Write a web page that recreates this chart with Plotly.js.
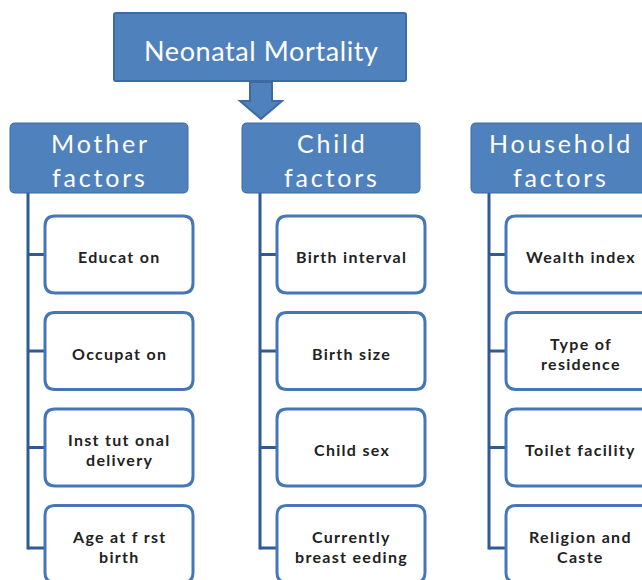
<!DOCTYPE html>
<html>
<head>
<meta charset="utf-8">
<script src="https://cdn.plot.ly/plotly-3.0.1.min.js"></script>
<style>html,body{margin:0;padding:0;background:#fff}#chart{width:642px;height:580px}</style>
</head>
<body>
<div id="chart"></div>
<script>
// ---- data ----
var rootLabel = "Neonatal Mortality";
var groupLabels = ["Mother<br>factors", "Child<br>factors", "Household<br>factors"];
var motherItems = ["Educat on", "Occupat on", "Inst tut onal<br>delivery", "Age at f rst<br>birth"];
var childItems = ["Birth interval", "Birth size", "Child sex", "Currently<br>breast eeding"];
var householdItems = ["Wealth index", "Type of<br>residence", "Toilet facility", "Religion and<br>Caste"];
var groupItems = [motherItems, childItems, householdItems];

// ---- layout geometry ----
var BLUE = "#4f81bd", BLUE_DARK = "#3c6aa3", LINE = "#2e5a96", ITEM_BORDER = "#4676b8";
var groupX0 = [10, 242, 471], groupW = 178, groupY0 = 123, groupY1 = 193;
var itemDx = 35, itemW = 148, itemY0 = 216, itemH = 77, itemStep = 96.5;
var trunkDx = 18;
var fontFam = "Lato, 'Open Sans', sans-serif";

function rr(x0, y0, x1, y1, r) {
  return "M" + (x0 + r) + "," + y0 + " L" + (x1 - r) + "," + y0 + " Q" + x1 + "," + y0 + " " + x1 + "," + (y0 + r) +
    " L" + x1 + "," + (y1 - r) + " Q" + x1 + "," + y1 + " " + (x1 - r) + "," + y1 +
    " L" + (x0 + r) + "," + y1 + " Q" + x0 + "," + y1 + " " + x0 + "," + (y1 - r) +
    " L" + x0 + "," + (y0 + r) + " Q" + x0 + "," + y0 + " " + (x0 + r) + "," + y0 + " Z";
}
function spaced(t, ls) { return '<span style="letter-spacing:' + ls + 'px">' + t + '</span>'; }

var shapes = [], annotations = [];
function addLines(label, cx, cy, spacing, font, ls) {
  var lines = label.split("<br>");
  var n = lines.length;
  lines.forEach(function (ln, k) {
    annotations.push({x: cx + ls / 2, y: cy + (k - (n - 1) / 2) * spacing, xref: "x", yref: "y",
      text: spaced(ln, ls), showarrow: false, borderpad: 0, font: font});
  });
}

// root box
shapes.push({type: "path", xref: "x", yref: "y", path: rr(114, 13, 406, 81, 2), fillcolor: BLUE, line: {color: BLUE_DARK, width: 2}});
addLines(rootLabel, 261, 50, 0, {family: fontFam, size: 27, color: "#ffffff"}, 0.6);
// arrow
shapes.push({type: "path", xref: "x", yref: "y",
  path: "M250,82 L272,82 L272,101 L282,101 L261,119 L240,101 L250,101 Z",
  fillcolor: BLUE, line: {color: BLUE_DARK, width: 2}});

groupLabels.forEach(function (g, gi) {
  var gx0 = groupX0[gi];
  shapes.push({type: "path", xref: "x", yref: "y", path: rr(gx0, groupY0, gx0 + groupW, groupY1, 5), fillcolor: BLUE, line: {color: BLUE_DARK, width: 1}});
  addLines(g, gx0 + groupW / 2, (groupY0 + groupY1) / 2 + 2, 34, {family: fontFam, size: 25, color: "#ffffff"}, 2.8);
  var items = groupItems[gi];
  var tx = gx0 + trunkDx;
  var lastMid = itemY0 + (items.length - 1) * itemStep + itemH / 2 + 4;
  shapes.push({type: "line", xref: "x", yref: "y", x0: tx, x1: tx, y0: groupY1, y1: lastMid + 1.5, line: {color: LINE, width: 3}});
  items.forEach(function (it, ii) {
    var y0 = itemY0 + ii * itemStep, y1 = y0 + itemH;
    var ix0 = gx0 + itemDx, ix1 = ix0 + itemW;
    var mid = (y0 + y1) / 2 + (ii === items.length - 1 ? 4 : 0);
    shapes.push({type: "line", xref: "x", yref: "y", x0: tx, x1: ix0, y0: mid, y1: mid, line: {color: LINE, width: 3}});
    shapes.push({type: "path", xref: "x", yref: "y", path: rr(ix0, y0, ix1, y1, 10), fillcolor: "#ffffff", line: {color: ITEM_BORDER, width: 3}});
    addLines(it, (ix0 + ix1) / 2, (y0 + y1) / 2 + 2, 20, {family: fontFam, size: 16, color: "#222222", weight: 700}, 1.3);
  });
});

var layout = {
  width: 642, height: 580,
  margin: {l: 0, r: 0, t: 0, b: 0},
  paper_bgcolor: "#ffffff", plot_bgcolor: "#ffffff",
  xaxis: {range: [0, 642], visible: false, fixedrange: true},
  yaxis: {range: [580, 0], visible: false, fixedrange: true},
  shapes: shapes, annotations: annotations, showlegend: false
};
Plotly.newPlot("chart", [], layout, {displayModeBar: false, staticPlot: true});
</script>
</body>
</html>
